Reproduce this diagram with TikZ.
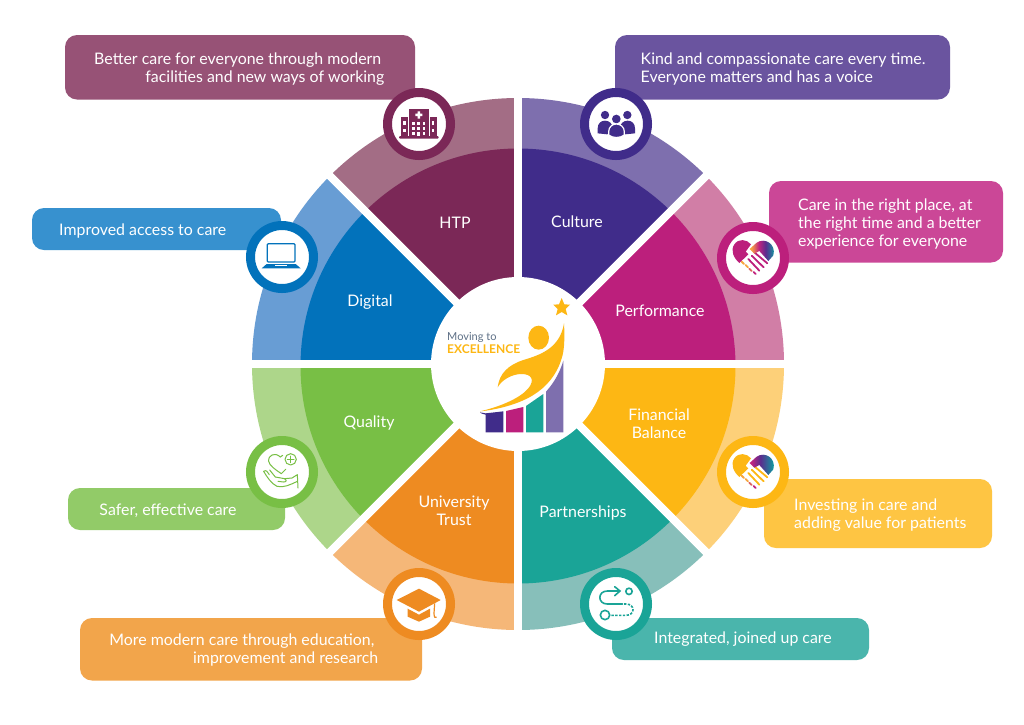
\documentclass[tikz,border=0pt]{standalone}
\usepackage{fontspec}
\setmainfont{Lato}
\usetikzlibrary{calc}
\definecolor{htpD}{HTML}{7B2857}\definecolor{htpL}{HTML}{A36D85}\definecolor{htpB}{HTML}{975276}
\definecolor{culD}{HTML}{402C8A}\definecolor{culL}{HTML}{7E6FAE}\definecolor{culB}{HTML}{6A549F}
\definecolor{perD}{HTML}{BC1F7C}\definecolor{perL}{HTML}{D17EA6}\definecolor{perB}{HTML}{CB4797}
\definecolor{finD}{HTML}{FDB714}\definecolor{finL}{HTML}{FDD079}\definecolor{finB}{HTML}{FEC543}
\definecolor{parD}{HTML}{1AA497}\definecolor{parL}{HTML}{87BFBA}\definecolor{parB}{HTML}{4AB5AC}
\definecolor{uniD}{HTML}{EE8B21}\definecolor{uniL}{HTML}{F5B778}\definecolor{uniB}{HTML}{F2A54B}
\definecolor{quaD}{HTML}{78BF45}\definecolor{quaL}{HTML}{ADD68A}\definecolor{quaB}{HTML}{92CB68}
\definecolor{digD}{HTML}{0272BB}\definecolor{digL}{HTML}{689DD4}\definecolor{digB}{HTML}{3791CF}
\definecolor{logoGrey}{HTML}{5E7086}
\definecolor{gOrange}{HTML}{F7A541}\definecolor{gMag}{HTML}{C2237F}\definecolor{gPur}{HTML}{5B2D8E}\definecolor{gTeal}{HTML}{0E9BA0}
\pgfdeclarehorizontalshading{shakeA}{100bp}{color(0bp)=(gOrange);color(28bp)=(gOrange);color(42bp)=(gMag);color(55bp)=(gPur);color(72bp)=(gTeal);color(100bp)=(gTeal)}
\pgfdeclarehorizontalshading{shakeB}{100bp}{color(0bp)=(gMag);color(28bp)=(gMag);color(45bp)=(gPur);color(70bp)=(gTeal);color(100bp)=(gTeal)}
\tikzset{
  lbl/.style={text=white,font=\fontsize{15.9}{18}\selectfont,inner sep=0pt},
  seglbl/.style={lbl,align=center,anchor=center},
  rings/.style={line width=9pt,fill=white},
  zoomgrid/.style={x=0.33333pt,y=-0.33333pt},
  fingerline/.style={line cap=round,line width=1.8pt}
}
% clipped wedge: two far corners, light colour, dark colour
\newcommand{\wedgeseg}[4]{%
  \begin{scope}
    \clip (518,364) -- #1 -- #2 -- cycle;
    \fill[#3] (518,364) circle[radius=266pt];
    \fill[#4] (518,366) circle[radius=217.5pt];
  \end{scope}}
\newcommand{\infobox}[5]{\fill[#5,rounded corners=12pt] (#1,#2) rectangle (#3,#4);}
\newcommand{\iconring}[3]{\draw[#3,rings] (#1,#2) circle[radius=31.5pt];}
\newcommand{\handshake}[7]{%
  \begin{scope}[shift={(#1,#2)},zoomgrid]
    \fill[#3] (108,70) .. controls (95,54) and (70,52) .. (58,70) .. controls (46,88) and (55,110) .. (73,126) -- (100,100) -- (92,92) -- cycle;
    \draw[#3,fingerline] (118,94) -- (157,127);
    \draw[#3,fingerline] (110,104) -- (146,139);
    \draw[#3,fingerline] (100,114) -- (133,149);
    \shade[shading=#4] (104,84) -- (125,65) .. controls (150,48) and (184,70) .. (175,103) -- (160,120) -- (133,90) -- (118,98) -- cycle;
    \draw[#5,fingerline] (80,122) -- (87,129);
    \draw[#5,fingerline] (92,132) -- (99,139);
    \draw[#6,fingerline] (103,143) -- (110,150);
    \draw[#7,fingerline] (116,153) -- (122,159);
  \end{scope}}
\begin{document}
\begin{tikzpicture}[x=1pt,y=-1pt]
\useasboundingbox (0,0) rectangle (1024,724);
\fill[white] (0,0) rectangle (1024,724);
\coordinate (N) at (518,-36);\coordinate (NE) at (918,-36);\coordinate (E) at (918,364);\coordinate (SE) at (918,764);
\coordinate (S) at (518,764);\coordinate (SW) at (118,764);\coordinate (W) at (118,364);\coordinate (NW) at (118,-36);
% wheel
\wedgeseg{(N)}{(NE)}{culL}{culD}
\wedgeseg{(NE)}{(E)}{perL}{perD}
\wedgeseg{(E)}{(SE)}{finL}{finD}
\wedgeseg{(SE)}{(S)}{parL}{parD}
\wedgeseg{(S)}{(SW)}{uniL}{uniD}
\wedgeseg{(SW)}{(W)}{quaL}{quaD}
\wedgeseg{(W)}{(NW)}{digL}{digD}
\wedgeseg{(NW)}{(N)}{htpL}{htpD}
\draw[white,line width=8pt] (N) -- (S) (W) -- (E);
\draw[white,line width=8pt] (NW) -- (SE) (NE) -- (SW);
\fill[white] (518,364) circle[radius=87pt];
% boxes
\infobox{65}{35}{415}{99.5}{htpB}
\infobox{615}{35}{950}{99.5}{culB}
\infobox{769}{181}{1003}{262.5}{perB}
\infobox{764}{479}{992}{548}{finB}
\infobox{612}{618}{869}{660}{parB}
\infobox{80}{618}{422}{680.5}{uniB}
\infobox{68}{488}{285}{530}{quaB}
\infobox{32}{208}{281}{250}{digB}
% box texts
\node[lbl,anchor=east,align=right] (tHTP) at (384.5,69.5) {Better care for everyone through modern\hspace*{3pt}\\facilities and new ways of working};
\node[lbl,anchor=west,align=left] (tCUL) at (640.5,69.5) {Kind and compassionate care every time.\\Everyone matters and has a voice};
\node[lbl,anchor=west,align=left] (tPER) at (798,223.5) {Care in the right place, at\\the right time and a better\\experience for everyone};
\node[lbl,anchor=west,align=left] (tFIN) at (794,515) {Investing in care and\\adding value for patients};
\node[lbl,anchor=west] (tPAR) at (654,639.5) {Integrated, joined up care};
\node[lbl,anchor=east,align=right] (tUNI) at (378.5,650) {More modern care through education,\hspace*{4pt}\\improvement and research};
\node[lbl,anchor=center] (tQUA) at (168,511) {Safer, effective care};
\node[lbl,anchor=west] (tDIG) at (59,230.5) {Improved access to care};
% segment labels
\node[seglbl] (sHTP) at (455,222.5) {HTP};
\node[seglbl] (sCUL) at (577,221.5) {Culture};
\node[seglbl] (sDIG) at (370,302.5) {Digital};
\node[seglbl] (sPER) at (660,310.5) {Performance};
\node[seglbl] (sQUA) at (369,423) {Quality};
\node[seglbl] (sFIN) at (659,423.5) {Financial\\Balance};
\node[seglbl] (sUNI) at (454,510.5) {University\\Trust};
\node[seglbl] (sPAR) at (583,512.5) {Partnerships};
% icon rings
\iconring{419}{124}{htpD}
\iconring{616}{124}{culD}
\iconring{282}{257}{digD}
\iconring{753}{258}{perD}
\iconring{282}{472}{quaD}
\iconring{753}{472}{finD}
\iconring{419}{604}{uniD}
\iconring{616}{604}{parD}
% hospital
\begin{scope}[shift={(230,80)},zoomgrid]
  \fill[htpD] (537,88) rectangle (596,168);
  \fill[htpD] (513,110) rectangle (533,168);
  \fill[htpD] (600,110) rectangle (621,168);
  \fill[htpD,rounded corners=1pt] (507,168) rectangle (626,176);
  \fill[white] (563,94) rectangle (570,116) (556,101) rectangle (577,108);
  \foreach \wx in {547,562,578}{\fill[white] (\wx,126) rectangle ++(7,8);}
  \foreach \wx in {547,578}{\fill[white] (\wx,142) rectangle ++(7,8);\fill[white] (\wx,156) rectangle ++(7,8);}
  \fill[white] (562,142) rectangle ++(7,8);
  \fill[white] (561,155) rectangle (571,168);
  \foreach \wx in {520,606}{\fill[white] (\wx,124) rectangle ++(7,10);\fill[white] (\wx,147) rectangle ++(7,10);}
\end{scope}
% people
\begin{scope}[shift={(570,80)},zoomgrid]
  \fill[culD] (105,105) circle[radius=12.5] (172,105) circle[radius=12.5];
  \fill[culD] (83,160) -- (83,145) .. controls (83,130) and (93,122) .. (105,122) .. controls (117,122) and (128,130) .. (128,145) -- (112,163) -- cycle;
  \fill[culD] (195,160) -- (195,145) .. controls (195,130) and (185,122) .. (173,122) .. controls (161,122) and (150,130) .. (150,145) -- (166,163) -- cycle;
  \fill[white] (139,117) circle[radius=17];
  \fill[culD] (139,117) circle[radius=13];
  \filldraw[fill=culD,draw=white,line width=1.2pt] (116,165) -- (116,155) .. controls (116,141) and (127,132) .. (139,132) .. controls (151,132) and (163,141) .. (163,155) -- (163,165) .. controls (150,175) and (128,175) .. (116,165) -- cycle;
\end{scope}
% laptop
\begin{scope}[shift={(230,80)},zoomgrid]
  \draw[digD,line width=1.3pt,rounded corners=1pt] (112,491) rectangle (195,546);
  \fill[digD] (110,552) -- (197,552) -- (212,565) -- (95,565) -- cycle;
  \fill[white] (135,555) rectangle (170,559);
\end{scope}
% handshakes
\handshake{715}{221}{perD}{shakeA}{gOrange}{gOrange!50!gMag}{gMag}
\handshake{715}{435}{finD}{shakeB}{gOrange}{gOrange!50!gMag}{gMag}
% caring hand
\begin{scope}[shift={(242,432)},zoomgrid,quaD,line width=1pt,line cap=round,line join=round]
  \draw (115,75) .. controls (100,60) and (78,68) .. (80,88) .. controls (82,100) and (100,113) .. (118,125) -- (131,112);
  \draw (115,75) -- (122,70);
  \draw (146,82) circle[radius=17];
  \draw (146,72) -- (146,92) (136,82) -- (156,82);
  \draw (65,118) .. controls (72,112) and (78,120) .. (82,128) (83,114) -- (100,135) -- (128,140) .. controls (135,142) and (135,150) .. (125,150) -- (108,148);
  \draw (65,118) .. controls (75,135) and (88,155) .. (105,163) .. controls (125,168) and (145,158) .. (166,148);
  \draw (128,140) -- (150,138) -- (166,128) -- (168,168);
\end{scope}
% mortarboard
\begin{scope}[shift={(230,430)},zoomgrid]
  \fill[uniD] (567,476) -- (632,510) -- (567,545) -- (500,510) -- cycle;
  \fill[uniD] (533,536) -- (567,554) -- (600,536) -- (600,560) -- (567,575) -- (533,560) -- cycle;
  \draw[uniD,line width=1.2pt] (614,520) -- (612,550) .. controls (612,562) and (616,565) .. (620,562);
\end{scope}
% pathway
\begin{scope}[shift={(570,430)},zoomgrid,parD,line width=1.6pt,line cap=round]
  \draw (148,483) -- (112,483) .. controls (82,483) and (82,522) .. (112,522) -- (158,522);
  \draw (134,470) -- (150,483) -- (134,497);
  \draw[line cap=butt,dash pattern=on 2.4pt off 1.4pt] (162,522) -- (168,522) .. controls (196,522) and (196,556) .. (168,556) -- (120,556);
  \draw (105,555) circle[radius=14];
  \draw (177,484) circle[radius=9.5];
\end{scope}
% logo
\node[text=logoGrey,font=\fontsize{11}{12}\selectfont,anchor=west,inner sep=0pt] (mvg) at (447,337) {Moving to};
\node[text=finD,font=\bfseries\fontsize{12}{12}\selectfont,anchor=west,inner sep=0pt] (exc) at (447,349.5) {EXCELLENCE};
\begin{scope}[shift={(420,270)},zoomgrid]
  \fill[culD] (180,427) -- (197,430) -- (197,487) -- (250,487) -- (250,424) -- (197,430) -- (197,434) -- (186,431) -- cycle;
  \fill[perD] (258,423) -- (310,411) -- (310,487) -- (258,487) -- cycle;
  \fill[parD] (318,408) -- (370,372) -- (370,487) -- (318,487) -- cycle;
  \fill[culL] (378,365) .. controls (405,335) and (420,305) .. (430,272) -- (430,487) -- (378,487) -- cycle;
  \fill[finD] (425,84) -- (433,103) -- (450,104) -- (437,117) -- (442,136) -- (425,126) -- (408,136) -- (413,117) -- (400,104) -- (417,103) -- cycle;
  \fill[finD] (356,203) ellipse[x radius=31,y radius=36];
  \fill[finD] (432,160) .. controls (435,210) and (432,245) .. (425,265) .. controls (410,315) and (380,350) .. (340,375) .. controls (300,400) and (240,418) .. (180,424) .. controls (240,410) and (300,385) .. (325,355) .. controls (345,330) and (335,312) .. (305,312) .. controls (275,312) and (245,330) .. (233,352) .. controls (238,310) and (265,285) .. (310,270) .. controls (360,255) and (420,235) .. (432,160) -- cycle;
\end{scope}
\end{tikzpicture}
\end{document}
